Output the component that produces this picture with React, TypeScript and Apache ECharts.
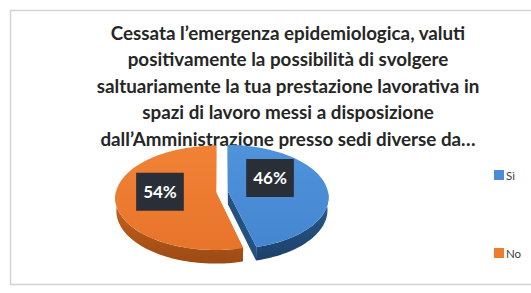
import { useEffect, useRef } from 'react';
import * as echarts from 'echarts';

const titleLines = [
  'Cessata l’emergenza epidemiologica, valuti',
  'positivamente la possibilità di svolgere',
  'saltuariamente la tua prestazione lavorativa in',
  'spazi di lavoro messi a disposizione',
  'dall’Amministrazione presso sedi diverse da…',
];
const categories = ['Sì', 'No'];
const values = [46, 54];

const topColors = [
  ['#4f93db', '#4586d0'],
  ['#f08236', '#e8742a'],
];
const wallColors = [
  ['#2c5d92', '#1c416a'],
  ['#cc6620', '#9c4a14'],
];
const radialColors = ['#25517f', '#c0601e'];
const legendColors = ['#4a8dd6', '#ee7c2e'];
const labelNudge = [
  [-12, -10],
  [-1, -4],
];

export default function App() {
  const ref = useRef<HTMLDivElement>(null);
  useEffect(() => {
    const chart = echarts.init(ref.current!, null, { renderer: 'svg' });
    const total = values.reduce((a, b) => a + b, 0);
    const starts = values.map((_, i) => values.slice(0, i).reduce((a, b) => a + b, 0));

    const CX = 222;
    const CY = 191.8;
    const K = 100;
    const D = 8;
    const ALPHA = (31 * Math.PI) / 180;
    const H = 0.15;
    const EXPLODE = 0.06;
    const sa = Math.sin(ALPHA);
    const ca = Math.cos(ALPHA);
    const proj = (X: number, Y: number, Z: number) => {
      const depth = D + Z * ca - Y * sa;
      return [CX + ((X * D) / depth) * K, CY - (((Y * ca + Z * sa) * D) / depth) * K];
    };

    const makeRender = (idx: number) => (params: any, api: any) => {
      const v = api.value(0);
      const s = api.value(1);
      const t = api.value(2);
      const a0 = (s / t) * Math.PI * 2;
      const a1 = ((s + v) / t) * Math.PI * 2;
      const mid = (a0 + a1) / 2;
      const ex = EXPLODE * Math.sin(mid);
      const ez = EXPLODE * Math.cos(mid);
      const pt = (th: number, r: number, y: number) =>
        proj(ex + r * Math.sin(th), y, ez + r * Math.cos(th));
      const arc = (b0: number, b1: number, y: number) => {
        const n = Math.max(2, Math.ceil((b1 - b0) / (Math.PI / 90)));
        const pts: number[][] = [];
        for (let k = 0; k <= n; k++) pts.push(pt(b0 + ((b1 - b0) * k) / n, 1, y));
        return pts;
      };
      const children: any[] = [];
      [a0, a1].forEach((th) => {
        children.push({
          type: 'polygon',
          shape: { points: [pt(th, 0, 0), pt(th, 1, 0), pt(th, 1, -H), pt(th, 0, -H)] },
          style: { fill: radialColors[idx] },
        });
      });
      const w0 = Math.max(a0, Math.PI / 2);
      const w1 = Math.min(a1, (Math.PI * 3) / 2);
      if (w1 > w0) {
        const topArc = arc(w0, w1, 0);
        const botArc = arc(w0, w1, -H).reverse();
        children.push({
          type: 'polygon',
          shape: { points: topArc.concat(botArc) },
          style: {
            fill: new echarts.graphic.LinearGradient(0, 0, 0, 1, [
              { offset: 0, color: wallColors[idx][0] },
              { offset: 1, color: wallColors[idx][1] },
            ]),
          },
        });
      }
      children.push({
        type: 'polygon',
        shape: { points: [pt(0, 0, 0)].concat(arc(a0, a1, 0)) },
        style: {
          fill: new echarts.graphic.LinearGradient(0, 0, 0, 1, [
            { offset: 0, color: topColors[idx][0] },
            { offset: 1, color: topColors[idx][1] },
          ]),
        },
      });
      const lp = pt(mid, 0.55, 0);
      children.push({
        type: 'text',
        x: lp[0] + labelNudge[idx][0],
        y: lp[1] + labelNudge[idx][1],
        style: {
          text: Math.round((v / t) * 100) + '%',
          align: 'center',
          verticalAlign: 'middle',
          fill: '#ffffff',
          font: 'bold 17px Lato',
          backgroundColor: '#2a2e36',
          padding: [11, 7, 10, 7],
        },
      });
      return { type: 'group', children };
    };

    chart.setOption({
      animation: false,
      backgroundColor: '#ffffff',
      graphic: [
        {
          type: 'rect',
          z: -10,
          shape: { x: 10.5, y: 10.5, width: 540, height: 274 },
          style: { fill: '#ffffff', stroke: '#d2d2dc', lineWidth: 1.5 },
        },
        {
          type: 'text',
          x: 288,
          y: 19,
          style: {
            text: titleLines.join('\n'),
            align: 'center',
            verticalAlign: 'top',
            font: 'bold 18.8px Lato',
            lineHeight: 26.5,
            fill: '#262626',
          },
        },
      ],
      legend: {
        orient: 'vertical',
        left: 489,
        top: 164,
        itemGap: 66,
        itemWidth: 10,
        itemHeight: 10,
        icon: 'rect',
        data: categories,
        textStyle: { fontSize: 11.5, color: '#404040', fontFamily: 'Lato', padding: [0, 0, 0, -3] },
      },
      series: categories.map((name, i) => ({
        type: 'custom',
        name,
        coordinateSystem: 'none',
        silent: true,
        itemStyle: { color: legendColors[i] },
        data: [[values[i], starts[i], total]],
        renderItem: makeRender(i),
      })),
    });
    return () => chart.dispose();
  }, []);
  return (
    <div
      ref={ref}
      style={{ position: 'fixed', left: 0, top: 0, width: 531, height: 293 }}
    />
  );
}
